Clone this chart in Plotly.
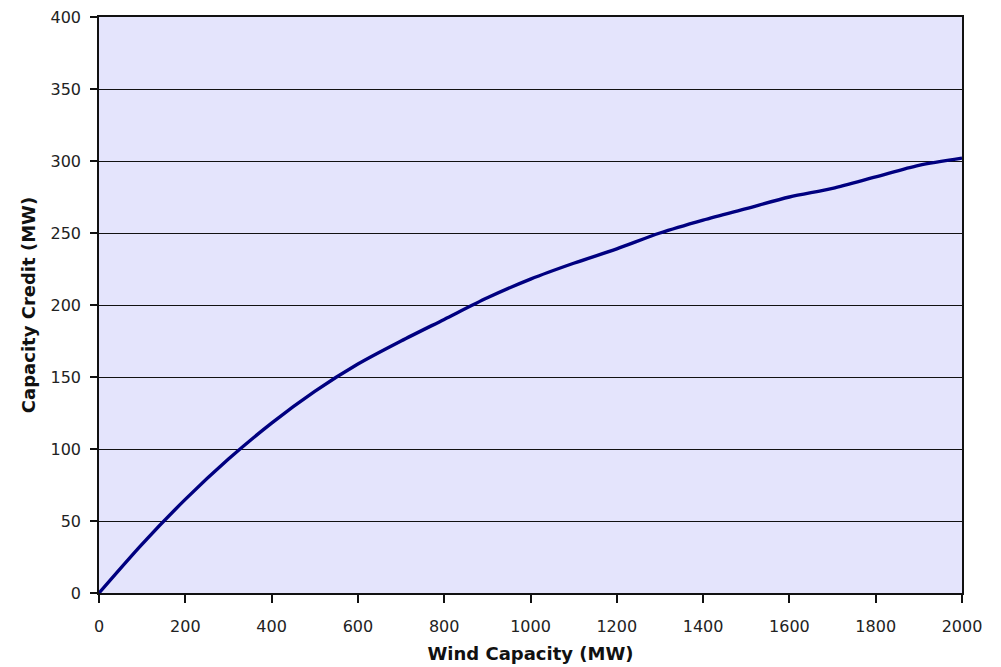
import plotly.graph_objects as go

wind_capacity = [0, 100, 200, 300, 400, 500, 600, 700, 800, 900, 1000,
                 1100, 1200, 1300, 1400, 1500, 1600, 1700, 1800, 1900, 2000]
capacity_credit = [0, 34, 65, 93, 118, 140, 159, 175, 190, 205, 218,
                   229, 239, 250, 259, 267, 275, 281, 289, 297, 302]

x_ticks = list(range(0, 2001, 200))
y_ticks = list(range(0, 401, 50))

fig = go.Figure()
fig.add_trace(go.Scatter(
    x=wind_capacity, y=capacity_credit, mode="lines",
    line=dict(color="#000080", width=3.4, shape="spline", smoothing=0.8),
    hoverinfo="skip", showlegend=False,
))

font = "DejaVu Sans, Verdana, Tahoma, sans-serif"
fig.update_layout(
    width=1001, height=667,
    margin=dict(l=99, r=39, t=17, b=74),
    paper_bgcolor="white",
    plot_bgcolor="#E4E4FC",
    font=dict(family=font, size=16, color="#222"),
    xaxis=dict(
        range=[0, 2000], tickvals=x_ticks, showgrid=False, zeroline=False,
        showline=True, linecolor="#111", linewidth=1.5, mirror=True,
        ticks="outside", ticklen=8, tickcolor="#111", tickwidth=1.5,
        ticklabelstandoff=10, automargin=False,
        title=dict(text="<b>Wind Capacity (MW)</b>", font=dict(size=18, color="#111"), standoff=12),
        tickfont=dict(size=16),
    ),
    yaxis=dict(
        range=[0, 400], tickvals=y_ticks, showgrid=True, gridcolor="#111", gridwidth=1.2,
        zeroline=False, showline=True, linecolor="#111", linewidth=1.5, mirror=True,
        ticks="outside", ticklen=7, tickcolor="#111", tickwidth=1.5,
        ticklabelstandoff=6, automargin=False,
        title=dict(text="<b>Capacity Credit (MW)</b>", font=dict(size=18, color="#111"), standoff=10),
        tickfont=dict(size=16),
    ),
)

fig.write_html("out.html")
